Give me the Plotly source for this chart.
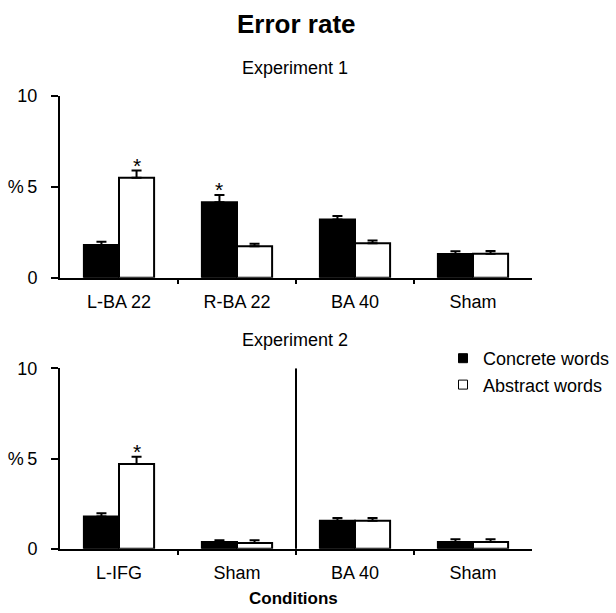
import plotly.graph_objects as go

# ---- data ----
exp1_conditions = ["L-BA 22", "R-BA 22", "BA 40", "Sham"]
exp1_concrete = [1.8, 4.15, 3.2, 1.3]
exp1_concrete_err = [0.18, 0.4, 0.2, 0.15]
exp1_abstract = [5.5, 1.73, 1.9, 1.32]
exp1_abstract_err = [0.4, 0.14, 0.15, 0.15]
exp1_sig = [("abstract", 0), ("concrete", 1)]

exp2_conditions = ["L-IFG", "Sham", "BA 40", "Sham"]
exp2_concrete = [1.78, 0.37, 1.55, 0.37]
exp2_concrete_err = [0.18, 0.1, 0.15, 0.15]
exp2_abstract = [4.7, 0.32, 1.55, 0.37]
exp2_abstract_err = [0.4, 0.15, 0.15, 0.15]
exp2_sig = [("abstract", 0)]

y_ticks = [0, 5, 10]
y_ticktext = ["0", "%\u20095", "10"]

FONT = "Liberation Sans, Arial, sans-serif"
BARGAP = 0.405
W, H = 616, 613

fig = go.Figure()

def add_panel(xa, ya, conc, conc_err, abst, abst_err):
    xs = list(range(len(conc)))
    fig.add_trace(go.Bar(
        x=xs, y=conc, name="Concrete words", showlegend=False,
        marker=dict(color="black", line=dict(color="black", width=2)),
        error_y=dict(type="data", array=conc_err, arrayminus=[0]*len(conc),
                     symmetric=False, color="black", thickness=2, width=5),
        xaxis=xa, yaxis=ya, offsetgroup="c"))
    fig.add_trace(go.Bar(
        x=xs, y=abst, name="Abstract words", showlegend=False,
        marker=dict(color="white", line=dict(color="black", width=2)),
        error_y=dict(type="data", array=abst_err, arrayminus=[0]*len(abst),
                     symmetric=False, color="black", thickness=2, width=5),
        xaxis=xa, yaxis=ya, offsetgroup="a"))

add_panel("x", "y", exp1_concrete, exp1_concrete_err, exp1_abstract, exp1_abstract_err)
add_panel("x2", "y2", exp2_concrete, exp2_concrete_err, exp2_abstract, exp2_abstract_err)

# legend entries (small square swatches)
for nm, col, grp in [("Concrete words", "black", "c"), ("Abstract words", "white", "a")]:
    fig.add_trace(go.Scatter(
        x=[None], y=[None], mode="markers", name=nm, legendgroup=grp,
        marker=dict(symbol="square", size=9, color=col, line=dict(color="black", width=1)),
        xaxis="x", yaxis="y", showlegend=True))

half = (1 - BARGAP) / 4.0
def sig_annots(sig, conc, conc_err, abst, abst_err, xref, yref):
    out = []
    for kind, i in sig:
        if kind == "abstract":
            xv, yv = i + half, abst[i] + abst_err[i]
        else:
            xv, yv = i - half, conc[i] + conc_err[i]
        out.append(dict(x=xv, y=yv, xref=xref, yref=yref, text="*",
                        showarrow=False, yanchor="bottom", yshift=-8,
                        font=dict(family=FONT, size=21, color="black")))
    return out

annots = []
annots += sig_annots(exp1_sig, exp1_concrete, exp1_concrete_err,
                     exp1_abstract, exp1_abstract_err, "x", "y")
annots += sig_annots(exp2_sig, exp2_concrete, exp2_concrete_err,
                     exp2_abstract, exp2_abstract_err, "x2", "y2")

def px_x(sx):
    return sx / W

def py(sy):
    return 1 - sy / H

def text_annot(txt, cx, cy, size):
    return dict(text=txt, x=px_x(cx), y=py(cy), xref="paper", yref="paper",
                xanchor="center", yanchor="middle", showarrow=False,
                font=dict(family=FONT, size=size, color="black"))

annots += [
    text_annot("<b>Error rate</b>", 296, 24, 26),
    text_annot("Experiment 1", 295, 68, 18),
    text_annot("Experiment 2", 295, 340, 18),
    text_annot("<b>Conditions</b>", 293, 598, 17),
]

xdom = [px_x(60), px_x(532)]
axis_common = dict(showgrid=False, zeroline=False, showline=True, automargin=False,
                   linecolor="black", linewidth=2, color="black",
                   tickfont=dict(family=FONT, size=18, color="black"))

def xaxis(conds, anchor):
    return dict(axis_common, domain=xdom, anchor=anchor, range=[-0.5, 3.5],
                tickmode="array", tickvals=list(range(len(conds))), ticktext=conds,
                ticks="", ticklabelstandoff=7,
                minor=dict(tickmode="array", tickvals=[0.5, 1.5, 2.5],
                           ticks="outside", ticklen=4, tickwidth=2, tickcolor="black"))

def yaxis(dom, anchor):
    return dict(axis_common, domain=dom, anchor=anchor, range=[0, 10],
                tickmode="array", tickvals=y_ticks, ticktext=y_ticktext,
                ticks="outside", ticklen=7, tickwidth=2, tickcolor="black",
                ticklabelstandoff=10)

fig.update_layout(
    width=W, height=H, margin=dict(l=0, r=0, t=0, b=0, autoexpand=False),
    paper_bgcolor="white", plot_bgcolor="white",
    barmode="group", bargap=BARGAP, bargroupgap=0,
    xaxis=xaxis(exp1_conditions, "y"),
    yaxis=yaxis([py(277.7), py(96)], "x"),
    xaxis2=xaxis(exp2_conditions, "y2"),
    yaxis2=yaxis([py(548.7), py(368.3)], "x2"),
    annotations=annots,
    shapes=[dict(type="line", xref="x2", yref="y2", x0=1.5, x1=1.5, y0=-0.25, y1=10,
                 line=dict(color="black", width=2))],
    legend=dict(x=px_x(443), y=py(340), xanchor="left", yanchor="top",
                font=dict(family=FONT, size=18, color="black"),
                bgcolor="rgba(0,0,0,0)", tracegroupgap=11, itemwidth=30,
                traceorder="normal"),
    showlegend=True,
)

fig.write_html("out.html", config={"displayModeBar": False},
               post_script="document.body.style.margin='0px';document.body.style.overflow='hidden';")
